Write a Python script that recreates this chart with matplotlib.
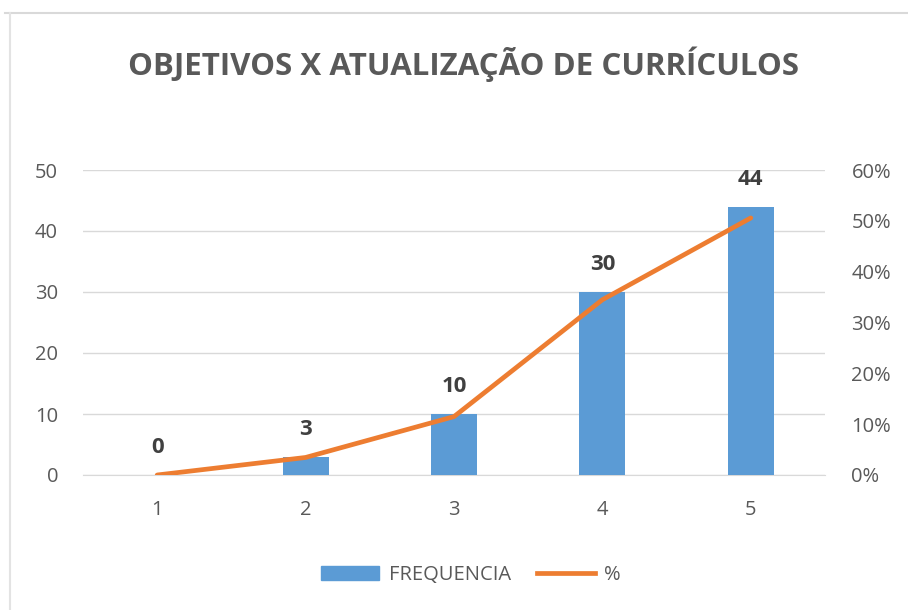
import matplotlib
matplotlib.use("Agg")
import matplotlib.pyplot as plt
from matplotlib.lines import Line2D
from matplotlib.ticker import FuncFormatter

categories = ["1", "2", "3", "4", "5"]
frequencia = [0, 3, 10, 30, 44]
percent = [0.0, 0.0345, 0.1149, 0.3448, 0.5057]

BLUE = "#5B9BD5"
ORANGE = "#ED7D31"
GREY = "#595959"
GRID = "#D9D9D9"

plt.rcParams['font.family'] = ['Open Sans', 'DejaVu Sans']

fig = plt.figure(figsize=(9.08, 6.10), dpi=100)
ax = fig.add_axes([83/908, 1-475/610, (825-83)/908, 305/610])
x = list(range(len(categories)))
ax.bar(x, frequencia, width=0.31, color=BLUE, zorder=3, label="FREQUENCIA")
ax.set_ylim(0, 50)
ax.set_xlim(-0.5, 4.5)
ax.set_yticks([0, 10, 20, 30, 40, 50])
ax.set_xticks(x)
ax.set_xticklabels(categories)
ax.grid(axis='y', color=GRID, linewidth=1, zorder=0)
for s in ax.spines.values():
    s.set_visible(False)
ax.spines['bottom'].set_visible(True)
ax.spines['bottom'].set_color(GRID)
ax.tick_params(axis='both', length=0, colors=GREY, labelsize=14.5)
ax.tick_params(axis='y', pad=18)
ax.tick_params(axis='x', pad=18)
for xi, v in zip(x, frequencia):
    ax.annotate(str(v), (xi, v), xytext=(0, 12), textcoords='offset points',
                ha='center', va='bottom', fontsize=16, fontweight='bold', color="#404040", zorder=5)

ax2 = ax.twinx()
ax2.plot(x, percent, color=ORANGE, linewidth=3.4, zorder=4, solid_capstyle='round')
ax2.set_ylim(0, 0.6)
ax2.set_yticks([0, 0.1, 0.2, 0.3, 0.4, 0.5, 0.6])
ax2.yaxis.set_major_formatter(FuncFormatter(lambda v, p: f"{v*100:.0f}%"))
for s in ax2.spines.values():
    s.set_visible(False)
ax2.tick_params(axis='y', length=0, colors=GREY, labelsize=14.5, pad=19)
ax2.set_zorder(ax.get_zorder() + 1)
ax2.patch.set_visible(False)

fig.text(463/908, 1-64/610, "OBJETIVOS X ATUALIZAÇÃO DE CURRÍCULOS", ha='center', va='center',
         fontsize=22.5, fontweight='bold', color=GREY)

handles = [plt.Rectangle((0, 0), 1, 1, color=BLUE),
           Line2D([0], [0], color=ORANGE, linewidth=3.4)]
fig.legend(handles, ["FREQUENCIA", "%"], loc='center', bbox_to_anchor=(471/908, 1-575/610),
           ncol=2, frameon=False, fontsize=14.5, labelcolor=GREY, handlelength=2.9,
           handleheight=0.7, handletextpad=0.45, columnspacing=1.3)

# chart border
fig.add_artist(Line2D([5/908, 1], [1-13/610, 1-13/610], transform=fig.transFigure, color="#D9D9D9", linewidth=1.5))
fig.add_artist(Line2D([10/908, 10/908], [0, 1-13/610], transform=fig.transFigure, color="#E3E3E3", linewidth=1.5))

fig.savefig("out.png", dpi=100, facecolor='white')
